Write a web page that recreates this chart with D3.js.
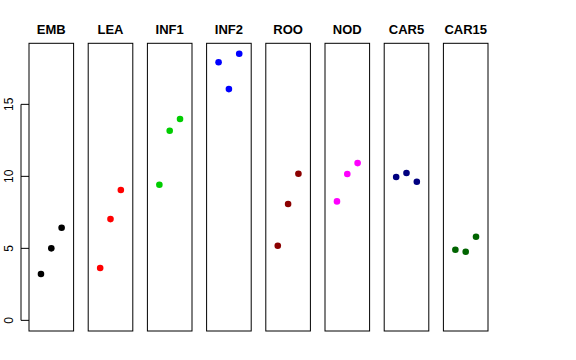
<!DOCTYPE html>
<html lang="en">
<head>
<meta charset="utf-8">
<style>
  body { margin: 0; background: #fff; }
  svg { display: block; font-family: "Liberation Sans", Arial, sans-serif; }
</style>
<script src="https://d3js.org/d3.v7.min.js"></script>
</head>
<body>
<script>
// panels, colours and three values per panel
var panels = ["EMB", "LEA", "INF1", "INF2", "ROO", "NOD", "CAR5", "CAR15"];
var colors = ["#000000", "#ff0000", "#00cd00", "#0000ff", "#8b0000", "#ff00ff", "#000080", "#006400"];
var values = [
  [3.22, 5.0, 6.43],
  [3.63, 7.03, 9.05],
  [9.42, 13.17, 13.98],
  [17.92, 16.06, 18.51],
  [5.18, 8.08, 10.18],
  [8.26, 10.16, 10.92],
  [9.95, 10.23, 9.63],
  [4.9, 4.76, 5.81]
];
var yTicks = [0, 5, 10, 15];

var w = 576, h = 360;
var plotTop = 43.3, plotBottom = 331;
var panelW = 44.6, step = 59.2, left0 = 29;

var svg = d3.select("body").append("svg")
  .attr("width", w).attr("height", h);

// R style ylim c(0, 18.5) with 4% padding
var y = d3.scaleLinear().domain([-0.74, 19.24]).range([plotBottom, plotTop]);
var x = d3.scaleLinear().domain([-0.16, 4.16]).range([0, panelW]);

// left axis
var axis = svg.append("g").attr("transform", "translate(21,0)");
axis.append("line")
  .attr("y1", y(0)).attr("y2", y(15))
  .attr("stroke", "#000");
axis.selectAll("line.tick").data(yTicks).enter().append("line")
  .attr("class", "tick")
  .attr("x1", 0).attr("x2", 8)
  .attr("y1", function (d) { return y(d); })
  .attr("y2", function (d) { return y(d); })
  .attr("stroke", "#000");
axis.selectAll("text").data(yTicks).enter().append("text")
  .attr("transform", function (d) { return "translate(-12," + y(d) + ") rotate(-90)"; })
  .attr("text-anchor", "middle")
  .attr("dy", "0.35em")
  .style("font-size", "12px")
  .text(function (d) { return d; });

panels.forEach(function (name, i) {
  var g = svg.append("g")
    .attr("transform", "translate(" + (left0 + i * step) + ",0)");

  g.append("rect")
    .attr("x", 0).attr("y", plotTop)
    .attr("width", panelW).attr("height", plotBottom - plotTop)
    .attr("fill", "none").attr("stroke", "#000");

  g.append("text")
    .attr("x", panelW / 2).attr("y", 34)
    .attr("text-anchor", "middle")
    .style("font-size", "13px")
    .style("font-weight", "bold")
    .text(name);

  g.selectAll("circle").data(values[i]).enter().append("circle")
    .attr("cx", function (d, j) { return x(j + 1); })
    .attr("cy", function (d) { return y(d); })
    .attr("r", 3.3)
    .attr("fill", colors[i]);
});
</script>
</body>
</html>
